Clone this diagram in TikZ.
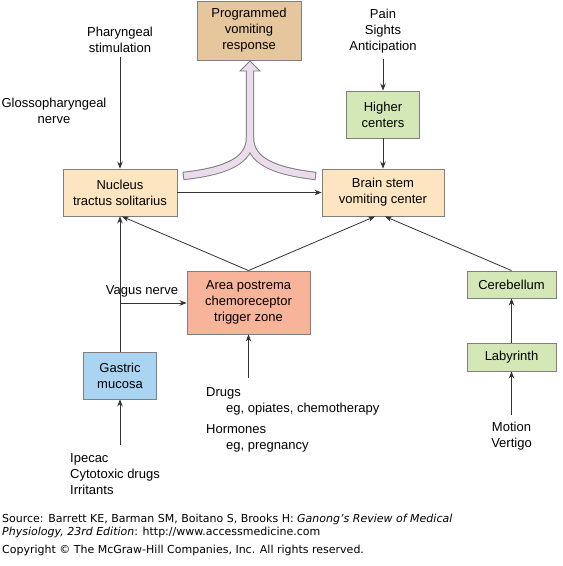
\documentclass[tikz,border=0pt]{standalone}
\usepackage{fontspec}
\setmainfont{Liberation Sans}
\newfontfamily\notefont{DejaVu Sans}
\usetikzlibrary{arrows.meta}
\definecolor{tanc}{HTML}{E6C69C}
\definecolor{peach}{HTML}{FDE5C1}
\definecolor{greenc}{HTML}{D4E7B6}
\definecolor{salmon}{HTML}{F7B49A}
\definecolor{bluec}{HTML}{A9D5F2}
\definecolor{pinkc}{HTML}{EBDCEB}
\definecolor{edgec}{HTML}{7F7F7F}
\definecolor{linec}{HTML}{333333}
\begin{document}
\begin{tikzpicture}[x=1pt,y=-1pt,
  box/.style={draw=edgec, line width=0.9pt, align=center, inner sep=0pt, font=\fontsize{13}{16}\selectfont},
  lbl/.style={align=center, inner sep=1pt, font=\fontsize{13}{16}\selectfont},
  arr/.style={draw=linec, line width=0.8pt, -{Stealth[length=7pt,width=5.5pt]}},
  note/.style={anchor=base west, inner sep=0pt, font=\notefont\fontsize{11}{12}\selectfont}]
\useasboundingbox (0,0) rectangle (563,566);
\fill[white] (0,0) rectangle (563,566);

% boxes
\node[box, fill=tanc, minimum width=104pt, minimum height=59pt] (prog) at (249,30.5) {Programmed\\vomiting\\response};
\node[box, fill=peach, minimum width=114pt, minimum height=47pt] (nts) at (120,192.5) {Nucleus\\tractus solitarius};
\node[box, fill=peach, minimum width=122pt, minimum height=47pt] (bsvc) at (383,192.5) {Brain stem\\vomiting center};
\node[box, fill=greenc, minimum width=73pt, minimum height=47pt] (higher) at (383,114.5) {Higher\\centers};
\node[box, fill=salmon, minimum width=123pt, minimum height=63pt] (area) at (248.5,302.5) {Area postrema\\chemoreceptor\\trigger zone};
\node[box, fill=bluec, minimum width=73pt, minimum height=47pt] (gastric) at (120,375.5) {Gastric\\mucosa};
\node[box, fill=greenc, minimum width=89pt, minimum height=27pt] (cereb) at (511.5,284.5) {Cerebellum};
\node[box, fill=greenc, minimum width=89pt, minimum height=28pt] (laby) at (511.5,357) {Labyrinth};

% labels
\node[lbl] (pain) at (383,31) {Pain\\Sights\\Anticipation};
\node[lbl] (phar) at (120,39.5) {Pharyngeal\\stimulation};
\node[lbl] (glosso) at (54,111) {Glossopharyngeal\\nerve};
\node[lbl] (vagus) at (142,291) {Vagus nerve};
\node[lbl, align=left, anchor=north west, inner sep=0pt] (drugs) at (206,387) {Drugs\\\hspace*{20pt}eg, opiates, chemotherapy\\[5pt]Hormones\\\hspace*{20pt}eg, pregnancy};
\node[lbl, align=left, anchor=north west, inner sep=0pt] (ipecac) at (70,453) {Ipecac\\Cytotoxic drugs\\Irritants};
\node[lbl] (motion) at (511.5,436) {Motion\\Vertigo};

% free ends
\coordinate (drugtop) at (248.5,378);
\coordinate (iptop) at (120,445);
\coordinate (mtop) at (511.5,415);
\coordinate (vj) at (120,303);

% pink fork
\draw[edgec, line width=8.4pt] (183,176) .. controls (228,171) and (250,160) .. (250,138) -- (250,71);
\draw[edgec, line width=8.4pt] (316,176) .. controls (272,171) and (250,160) .. (250,138);
\filldraw[fill=pinkc, draw=edgec, line width=0.9pt] (240,71) -- (250,61) -- (260,71) -- cycle;
\draw[pinkc, line width=6.4pt, shorten <=1pt] (183,176) .. controls (228,171) and (250,160) .. (250,138) -- (250,69);
\draw[pinkc, line width=6.4pt, shorten <=1pt] (316,176) .. controls (272,171) and (250,160) .. (250,138);

% connectors
\draw[arr, shorten <=4pt] (phar) -- (nts);
\draw[arr, shorten <=5pt] (pain) -- (higher);
\draw[arr] (higher) -- (bsvc);
\draw[arr] (nts) -- (bsvc);
\draw[arr] (area.north) -- ([xshift=2pt]nts.south);
\draw[arr] (area.north) -- ([xshift=-8pt]bsvc.south);
\draw[arr] (cereb.north) -- ([xshift=2pt]bsvc.south);
\draw[arr] (laby) -- (cereb);
\draw[arr] (mtop) -- (laby);
\draw[arr] (gastric) -- (nts);
\draw[arr] (vj) -- (vj -| area.west);
\draw[arr] (drugtop) -- (area);
\draw[arr] (iptop) -- (gastric);

% source note
\node[note] (src1) at (2,522) {Source: Barrett KE, Barman SM, Boitano S, Brooks H: \textit{Ganong’s Review of Medical}};
\node[note] (src2) at (2,535) {\textit{Physiology, 23rd Edition}: http://www.accessmedicine.com};
\node[note] (copy) at (2,553) {Copyright © The McGraw-Hill Companies, Inc. All rights reserved.};
\end{tikzpicture}
\end{document}
